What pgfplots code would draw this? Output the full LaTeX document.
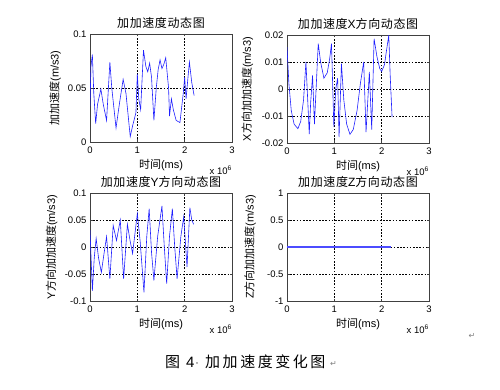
\documentclass[border=0pt]{standalone}
\usepackage{fontspec}
\setmainfont{Liberation Sans}
\newfontfamily\cjk{Noto Sans CJK SC}
\newfontfamily\cjkt[LetterSpace=5]{Noto Sans CJK SC}
\newfontfamily\cjkcap[LetterSpace=17]{Noto Sans CJK SC}
\newfontfamily\symf{DejaVu Sans}
\usepackage{pgfplots}
\pgfplotsset{compat=1.18}
\definecolor{mblue}{rgb}{0.12,0.12,1}
\definecolor{lblue}{rgb}{0.3,0.3,1}
\pgfplotsset{
  mstyle/.style={
    scale only axis, width=142pt, height=108pt, anchor=north west,
    xmin=0, xmax=3, xtick={0,1,2,3}, xticklabels={0,1,2,3},
    grid=major,
    major grid style={black, line width=0.4pt, dash pattern=on 1.6pt off 1.6pt},
    axis line style={black!75, line width=0.6pt},
    tick align=inside, major tick length=2.5pt,
    tick style={black!75, line width=0.5pt},
    /pgf/number format/assume math mode=true,
    ticklabel style={font=\fontsize{9.5}{10}\selectfont},
    xticklabel style={yshift=-1pt},
    title style={at={(axis description cs:0.5,1)}, anchor=center, yshift=5.5pt, font=\fontsize{12}{13}\selectfont},
    xlabel style={at={(axis description cs:0.5,0)}, anchor=center, yshift=-23pt, font=\fontsize{11}{12}\selectfont},
    xlabel={{\cjk 时间}(ms)},
    scaled ticks=false,
    axis on top=false,
  },
  ls/.style={mblue, line width=0.6pt},
}
\begin{document}
\begin{tikzpicture}
\path[use as bounding box] (0,0) rectangle (500pt,389pt);

% Plot 1
\begin{axis}[mstyle, name=ax1, at={(90pt,355pt)},
  ymin=0, ymax=0.1, ytick={0,0.05,0.1}, yticklabels={0,0.05,0.1},
  title={{\cjkt 加加速度动态图}},
  ylabel={{\cjk 加加速度}(m/s3)},
  ylabel style={at={(axis description cs:-0.245,0.5)}, anchor=center, font=\fontsize{11}{12}\selectfont}]
\addplot[ls] coordinates {
(0,0.033) (0.02,0.07) (0.05,0.081) (0.08,0.045) (0.12,0.017) (0.16,0.035)
(0.23,0.049) (0.28,0.035) (0.35,0.02) (0.42,0.074) (0.46,0.05) (0.55,0.013)
(0.62,0.035) (0.70,0.058) (0.76,0.045) (0.85,0.005) (0.90,0.015) (0.97,0.027)
(1.00,0.063) (1.03,0.04) (1.07,0.03) (1.13,0.085) (1.18,0.07) (1.22,0.065)
(1.26,0.073) (1.30,0.06) (1.35,0.02) (1.40,0.05) (1.44,0.067) (1.48,0.076)
(1.52,0.068) (1.56,0.072) (1.60,0.078) (1.66,0.05) (1.68,0.024) (1.72,0.04)
(1.76,0.03) (1.82,0.02) (1.90,0.018) (1.97,0.045) (2.00,0.06) (2.03,0.04)
(2.06,0.055) (2.10,0.074) (2.15,0.055) (2.20,0.043)
};
\end{axis}
\node[anchor=east, font=\fontsize{9.5}{10}\selectfont, inner sep=0pt] at ([yshift=-28pt]ax1.south east) {x 10\textsuperscript{6}};

% Plot 2
\begin{axis}[mstyle, name=ax2, at={(287pt,354pt)},
  ymin=-0.02, ymax=0.02, ytick={-0.02,-0.01,0,0.01,0.02}, yticklabels={-0.02,-0.01,0,0.01,0.02},
  title={{\cjkt 加加速度}X{\cjkt 方向动态图}},
  ylabel={X{\cjk 方向加加速度}(m/s3)},
  ylabel style={at={(axis description cs:-0.28,0.5)}, anchor=center, font=\fontsize{11}{12}\selectfont}]
\addplot[ls] coordinates {
(0,0.0155) (0.04,0.002) (0.09,-0.008) (0.15,-0.013) (0.23,-0.0147) (0.29,-0.012)
(0.35,-0.004) (0.40,0.01) (0.44,-0.005) (0.47,-0.0167) (0.50,-0.005) (0.54,0.005)
(0.58,-0.013) (0.62,0.002) (0.66,0.0168) (0.71,0.01) (0.78,0.004) (0.85,0.006)
(0.90,0.011) (0.94,0.0168) (0.99,-0.014) (1.03,0.0) (1.07,0.004) (1.10,-0.0178)
(1.15,0.0094) (1.20,-0.004) (1.26,-0.013) (1.33,-0.0168) (1.40,-0.015) (1.48,-0.008)
(1.55,0.002) (1.62,0.01) (1.67,-0.016) (1.74,0.0063) (1.79,-0.015) (1.84,0.0186)
(1.90,0.012) (1.96,0.0075) (2.00,0.0065) (2.06,0.009) (2.10,0.014) (2.15,0.0199)
(2.18,0.005) (2.22,-0.0104)
};
\end{axis}
\node[anchor=east, font=\fontsize{9.5}{10}\selectfont, inner sep=0pt] at ([yshift=-28pt]ax2.south east) {x 10\textsuperscript{6}};

% Plot 3
\begin{axis}[mstyle, name=ax3, at={(90pt,196pt)},
  ymin=-0.1, ymax=0.1, ytick={-0.1,-0.05,0,0.05,0.1}, yticklabels={-0.1,-0.05,0,0.05,0.1},
  title={{\cjkt 加加速度}Y{\cjkt 方向动态图}},
  ylabel={Y{\cjk 方向加加速度}(m/s3)},
  ylabel style={at={(axis description cs:-0.27,0.5)}, anchor=center, font=\fontsize{11}{12}\selectfont}]
\addplot[ls] coordinates {
(0,0.031) (0.05,-0.081) (0.09,-0.02) (0.13,0.016) (0.18,-0.02) (0.24,-0.047)
(0.30,-0.01) (0.35,0.019) (0.42,-0.059) (0.49,0.04) (0.56,0.012) (0.64,0.05)
(0.71,-0.059) (0.79,0.042) (0.85,0.01) (0.90,-0.012) (1.00,0.062) (1.06,0.01)
(1.14,-0.084) (1.20,0.02) (1.25,0.071) (1.30,-0.01) (1.35,-0.062) (1.43,0.02)
(1.52,0.076) (1.57,0.0) (1.62,-0.068) (1.68,0.02) (1.74,0.071) (1.79,0.0)
(1.84,-0.059) (1.92,0.02) (1.98,0.056) (2.05,-0.037) (2.11,0.073) (2.15,0.05)
(2.19,0.042)
};
\end{axis}
\node[anchor=east, font=\fontsize{9.5}{10}\selectfont, inner sep=0pt] at ([yshift=-28pt]ax3.south east) {x 10\textsuperscript{6}};

% Plot 4
\begin{axis}[mstyle, name=ax4, at={(287pt,196pt)},
  ymin=-1, ymax=1, ytick={-1,-0.5,0.5,1}, yticklabels={-1,-0.5,0.5,1},
  extra y ticks={0}, extra y tick labels={0},
  extra y tick style={grid=none},
  title={{\cjkt 加加速度}Z{\cjkt 方向动态图}},
  ylabel={Z{\cjk 方向加加速度}(m/s3)},
  ylabel style={at={(axis description cs:-0.26,0.5)}, anchor=center, font=\fontsize{11}{12}\selectfont}]
\addplot[black, line width=0.4pt, dash pattern=on 1.6pt off 1.6pt] coordinates {(2.19,0) (3,0)};
\addplot[color=lblue, line width=1.1pt] coordinates {(0,0) (2.19,0)};
\end{axis}
\node[anchor=east, font=\fontsize{9.5}{10}\selectfont, inner sep=0pt] at ([yshift=-28pt]ax4.south east) {x 10\textsuperscript{6}};

% return marks and caption
\node[gray, font=\symf\fontsize{8}{9}\selectfont, inner sep=0pt] at (472pt,53pt) {↵};
\node[anchor=west, inner sep=0pt, font=\fontsize{15}{16}\selectfont] at (165pt,27pt) {\cjk 图};
\node[anchor=west, inner sep=0pt, font=\fontsize{15}{16}\selectfont] at (186pt,27pt) {4\color{gray}·};
\node[anchor=west, inner sep=0pt, font=\fontsize{15}{16}\selectfont] at (205pt,27pt) {\cjkcap 加加速度变化图};
\node[anchor=west, inner sep=0pt, gray, font=\symf\fontsize{8}{9}\selectfont] at (330pt,25pt) {↵};
\end{tikzpicture}
\end{document}
